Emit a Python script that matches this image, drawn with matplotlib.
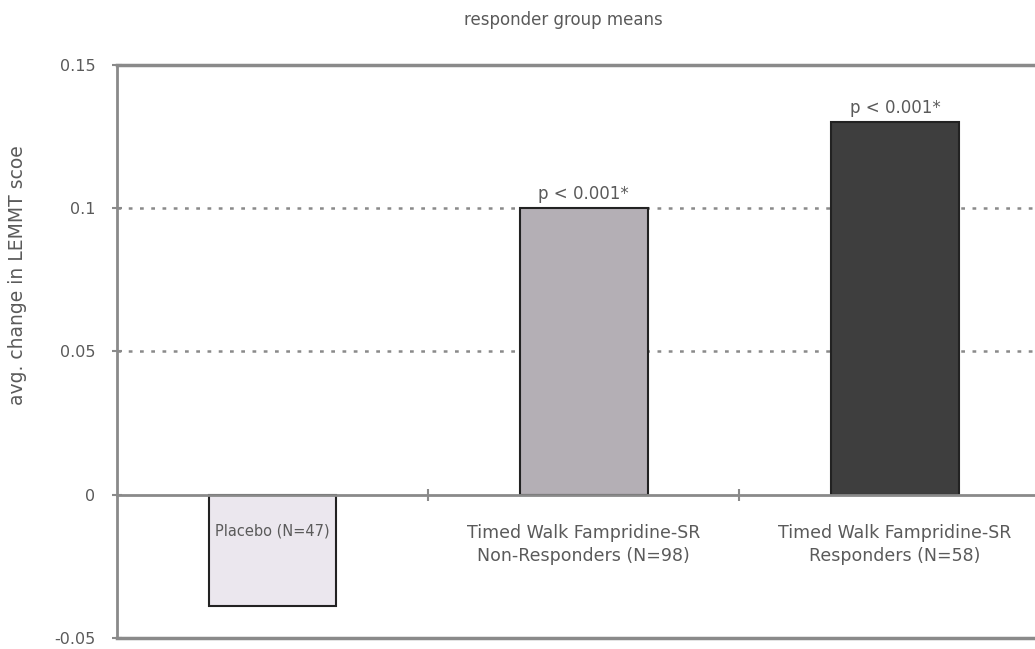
import matplotlib.pyplot as plt

# Data
categories = ["Placebo (N=47)",
              "Timed Walk Fampridine-SR\nNon-Responders (N=98)",
              "Timed Walk Fampridine-SR\nResponders (N=58)"]
values = [-0.039, 0.100, 0.130]
p_labels = ["", "p < 0.001*", "p < 0.001*"]
yticks = [-0.05, 0, 0.05, 0.1, 0.15]
ytick_labels = ["-0.05", "0", "0.05", "0.1", "0.15"]

bar_colors = ["#ebe7ee", "#b4afb5", "#3e3e3e"]
GRAY = "#8a8a8a"
TEXT = "#5a5a5a"

fig = plt.figure(figsize=(10.35, 6.49), dpi=100)
ax = fig.add_axes([0.113, 0.017, 0.887, 0.883])

x = list(range(len(categories)))
ax.bar(x, values, width=0.41, color=bar_colors, edgecolor="#222222",
       linewidth=1.5, zorder=3)

# Grid / frame lines
for y in [0.05, 0.1]:
    ax.axhline(y, color=GRAY, linestyle=(0, (1.5, 3)), linewidth=1.8, zorder=1)
ax.axhline(-0.05, color=GRAY, linewidth=2.5, zorder=2, clip_on=False)
ax.axhline(0.15, color=GRAY, linewidth=2.5, zorder=2, clip_on=False)

ax.set_xlim(-0.5, 2.45)
ax.set_ylim(-0.05, 0.15)

ax.spines["right"].set_visible(False)
ax.spines["top"].set_visible(False)
ax.spines["left"].set_color(GRAY)
ax.spines["left"].set_linewidth(2)
ax.spines["bottom"].set_position(("data", 0))
ax.spines["bottom"].set_color(GRAY)
ax.spines["bottom"].set_linewidth(2)
ax.spines["bottom"].set_zorder(4)

ax.set_xticks([0.5, 1.5])
ax.set_xticklabels([])
ax.tick_params(axis="x", direction="inout", length=8, color=GRAY, width=1.5)
ax.set_yticks(yticks)
ax.set_yticklabels(ytick_labels)
ax.tick_params(axis="y", direction="inout", length=7, color=GRAY, width=1.5,
               labelsize=11.5, labelcolor=TEXT, pad=12)

# Category labels under the zero line (placebo label squeezed inside its bar)
for i, lab in enumerate(categories):
    size = 10.5 if i == 0 else 12.5
    ax.annotate(lab, (i, 0), xytext=(0, -21), textcoords="offset points",
                ha="center", va="top", fontsize=size, color=TEXT,
                linespacing=1.4, zorder=5)

# p-value labels above the bars
for i, (v, p) in enumerate(zip(values, p_labels)):
    if p:
        ax.annotate(p, (i, v), xytext=(0, 4), textcoords="offset points",
                    ha="center", va="bottom", fontsize=12, color=TEXT)

ax.set_ylabel("avg. change in LEMMT scoe", fontsize=13.5, color=TEXT)
ax.yaxis.set_label_coords(-0.098, 0.633)

fig.text(0.544, 0.969, "responder group means", ha="center", va="center",
         fontsize=12, color=TEXT)

fig.savefig("out.png", dpi=100)
